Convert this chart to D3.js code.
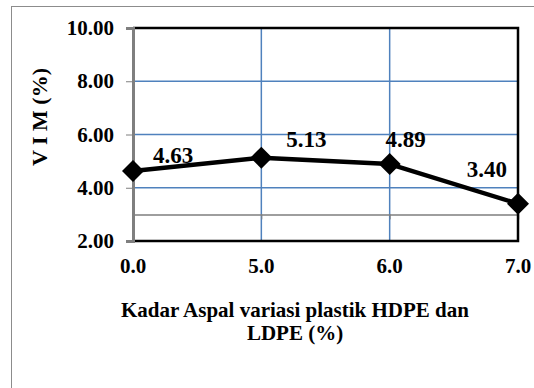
<!DOCTYPE html>
<html>
<head>
<meta charset="utf-8">
<script src="https://cdn.jsdelivr.net/npm/d3@7"></script>
<style>
  body { margin: 0; background: #fff; }
</style>
</head>
<body>
<div id="chart"></div>
<script>
// Chart data
const categories = ["0.0", "5.0", "6.0", "7.0"];
const vimValues = [4.63, 5.13, 4.89, 3.4];
const yTicks = [2, 4, 6, 8, 10];
const yTitle = "V I M (%)";
const xTitleLines = ["Kadar Aspal variasi plastik HDPE dan", "LDPE (%)"];

const FONT = "'Liberation Serif', 'Times New Roman', serif";

const W = 534, H = 388;
const margin = { top: 28, right: 16, bottom: 147, left: 133 };
const width = W - margin.left - margin.right;
const height = H - margin.top - margin.bottom;

const svg = d3.select("#chart").append("svg")
  .attr("width", W)
  .attr("height", H);

// outer chart frame
svg.append("rect")
  .attr("x", 11.5).attr("y", 6.5)
  .attr("width", 540).attr("height", 400)
  .attr("fill", "none")
  .attr("stroke", "#8c8c8c")
  .attr("stroke-width", 1);

const g = svg.append("g")
  .attr("transform", `translate(${margin.left},${margin.top})`);

const xScale = d3.scalePoint().domain(categories).range([0, width]).padding(0);
const yScale = d3.scaleLinear().domain([2, 10]).range([height, 0]);

// horizontal gridlines
g.append("g")
  .selectAll("line")
  .data(yTicks.filter(d => d > 2 && d < 10))
  .join("line")
  .attr("x1", 0).attr("x2", width)
  .attr("y1", d => yScale(d)).attr("y2", d => yScale(d))
  .attr("stroke", "#4f81bd")
  .attr("stroke-width", 1.5);

// vertical gridlines
g.append("g")
  .selectAll("line")
  .data(categories.slice(1, -1))
  .join("line")
  .attr("x1", d => xScale(d)).attr("x2", d => xScale(d))
  .attr("y1", 0).attr("y2", height)
  .attr("stroke", "#4f81bd")
  .attr("stroke-width", 1.5);

// category axis line (crosses at 3)
const xAxisG = g.append("g")
  .attr("transform", `translate(0,${yScale(3)})`)
  .call(d3.axisBottom(xScale).tickSize(5).tickFormat(""));
xAxisG.select(".domain").attr("stroke", "#7f7f7f").attr("stroke-width", 1.5);
xAxisG.selectAll(".tick line").attr("stroke", "#7f7f7f").attr("stroke-width", 1);

// plot border (top, right, bottom black)
g.append("path")
  .attr("d", `M0,0H${width}V${height}H0`)
  .attr("fill", "none")
  .attr("stroke", "#000")
  .attr("stroke-width", 2.5);

// value axis
const yAxisG = g.append("g")
  .call(d3.axisLeft(yScale).tickValues(yTicks).tickSize(7).tickPadding(12)
    .tickFormat(d3.format(".2f")));
yAxisG.select(".domain").attr("stroke", "#7f7f7f").attr("stroke-width", 3);
yAxisG.selectAll(".tick line").attr("stroke", "#7f7f7f").attr("stroke-width", 1);
yAxisG.selectAll(".tick text")
  .attr("fill", "#000")
  .attr("dy", "0.32em")
  .style("font-size", "21px")
  .style("font-family", FONT)
  .style("font-weight", "bold");

// category labels under the plot
g.append("g")
  .selectAll("text")
  .data(categories)
  .join("text")
  .attr("x", d => xScale(d))
  .attr("y", height + 32)
  .attr("text-anchor", "middle")
  .style("font-family", FONT)
  .style("font-weight", "bold")
  .style("font-size", "21px")
  .text(d => d);

// series line
const points = categories.map((c, i) => ({ cat: c, value: vimValues[i] }));
const line = d3.line()
  .x(d => xScale(d.cat))
  .y(d => yScale(d.value));

g.append("path")
  .datum(points)
  .attr("fill", "none")
  .attr("stroke", "#000")
  .attr("stroke-width", 4.5)
  .attr("stroke-linejoin", "round")
  .attr("d", line);

// diamond markers
g.append("g")
  .selectAll("path")
  .data(points)
  .join("path")
  .attr("d", "M0,-11L11,0L0,11L-11,0Z")
  .attr("transform", d => `translate(${xScale(d.cat)},${yScale(d.value)})`)
  .attr("fill", "#000");

// data labels (offsets relative to marker)
const labelOffsets = [
  { dx: 20, dy: -8, anchor: "start" },
  { dx: 25, dy: -11, anchor: "start" },
  { dx: 16, dy: -17, anchor: "middle" },
  { dx: -11, dy: -27, anchor: "end" }
];
g.append("g")
  .selectAll("text")
  .data(points)
  .join("text")
  .attr("x", (d, i) => xScale(d.cat) + labelOffsets[i].dx)
  .attr("y", (d, i) => yScale(d.value) + labelOffsets[i].dy)
  .attr("text-anchor", (d, i) => labelOffsets[i].anchor)
  .style("font-family", FONT)
  .style("font-weight", "bold")
  .style("font-size", "23px")
  .text(d => d3.format(".2f")(d.value));

// y axis title
svg.append("text")
  .attr("transform", `translate(47,117) rotate(-90)`)
  .attr("text-anchor", "middle")
  .style("font-family", FONT)
  .style("font-weight", "bold")
  .style("font-size", "22px")
  .text(yTitle);

// x axis title
svg.append("g")
  .selectAll("text")
  .data(xTitleLines)
  .join("text")
  .attr("x", 295)
  .attr("y", (d, i) => 317 + i * 23)
  .attr("text-anchor", "middle")
  .style("font-family", FONT)
  .style("font-weight", "bold")
  .style("font-size", "21px")
  .text(d => d);
</script>
</body>
</html>
